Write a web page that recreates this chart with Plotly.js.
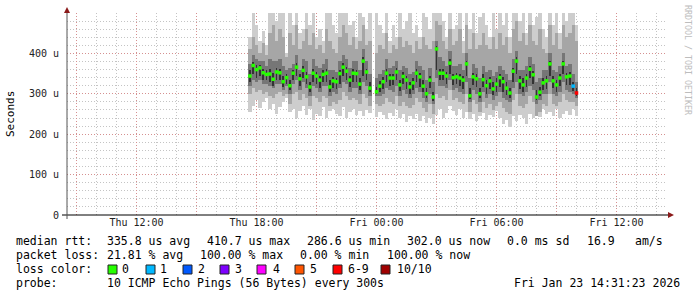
<!DOCTYPE html>
<html><head><meta charset="utf-8">
<script src="https://cdn.plot.ly/plotly-3.0.1.min.js"></script>
<style>html,body{margin:0;padding:0;background:#fff}#chart{width:697px;height:297px}</style>
</head><body><div id="chart"></div>
<script>
// ---- data (microseconds), 10-minute steps starting Thu 2026-01-22 17:40 ----
const startTime = '2026-01-22T17:40:00Z';
const stepMin = 10;
const med = [344,370,360,364,352,348,349,336,354,352, 330,340,320,351,366,337,358,342,317,351,
  344,334,348,351,317,332,330,350,366,356, 334,351,350,324,381,354,314,null,305,319,
  330,351,339,339,354,322,343,334,317,327, 351,342,319,300,334,292,411,351,351,344,
  376,340,342,339,334,374,295,342,337,300, 335,320,332,312,324,340,330,314,302,356,
  381,332,322,339,361,347,292,304,327,332, 374,332,322,339,374,342,344,319,302];
const lossCount = [0,0,0,0,0,0,0,0,0,0, 0,0,0,0,0,0,0,0,0,0, 0,0,0,0,0,0,0,0,0,0,
  0,0,0,0,0,0,0,10,0,0, 0,0,0,0,0,0,0,0,0,0, 0,0,0,0,0,0,0,0,0,0,
  0,0,0,0,0,0,0,0,0,0, 0,0,0,0,0,0,0,0,0,0, 0,0,0,0,0,0,0,0,0,0, 0,0,0,0,0,0,0,1,7];
const mx = [440,510,470,430,455,420,510,510,480,510, 510,400,510,470,510,450,460,510,470,510,
  440,460,430,510,510,470,450,510,510,510, 470,480,440,510,490,460,510,null,510,470,
  450,510,430,470,440,510,460,480,510,450, 470,440,510,490,460,510,510,510,480,440,
  510,460,470,510,430,510,460,510,450,490, 510,470,440,510,460,510,470,510,440,510,
  510,480,510,450,510,470,490,510,460,440, 510,470,510,450,510,480,510,510,470];
const mn = [255,270,285,265,280,290,262,275,250,268, 280,290,255,262,240,258,270,248,262,236,
  250,245,268,240,258,262,250,245,268,240, 255,262,248,258,245,260,252,null,242,255,
  248,238,252,245,262,240,250,230,246,238, 250,232,245,228,240,225,248,262,240,252,
  270,258,248,262,240,255,238,250,232,245, 252,236,248,242,258,240,225,236,218,244,
  232,248,240,226,250,240,258,242,262,250, 256,245,262,240,250,258,248,262,245];
const lo = [300,315,305,310,300,305,295,290,300,305, 295,300,275,300,305,285,300,290,270,295,
  290,280,295,290,270,280,275,285,305,295, 285,290,285,275,300,290,270,null,275,270,
  275,290,280,275,295,270,280,270,265,272, 290,280,265,255,275,250,300,290,295,285,
  310,285,290,280,275,300,255,285,275,255, 280,265,275,260,270,280,265,255,250,285,
  300,270,265,275,295,280,245,255,275,270, 300,275,270,280,300,285,280,280,270];
const hi = [410,440,420,400,425,395,450,470,430,460, 440,390,450,420,470,410,430,460,420,450,
  410,420,400,460,430,410,400,440,470,450, 420,440,410,430,470,420,430,null,400,420,
  410,450,400,420,410,440,415,430,420,400, 430,410,440,420,410,430,480,470,430,410,
  460,420,430,460,400,470,410,450,410,420, 450,420,410,440,410,450,420,440,400,460,
  480,430,450,420,470,430,420,460,410,400, 470,420,450,410,470,440,450,470,430];
const ilo = [320,335,330,335,325,325,320,315,325,325, 310,320,300,325,335,310,330,315,295,320,
  315,305,320,320,295,305,300,315,330,325, 305,315,315,300,330,320,295,null,295,295,
  300,315,310,305,320,295,310,300,290,300, 315,305,290,280,300,275,340,320,320,315,
  335,310,315,305,300,330,280,310,300,280, 305,290,300,285,295,305,290,285,280,315,
  330,300,295,305,320,310,275,285,300,300, 330,300,295,305,330,310,305,300,290];
const ihi = [375,395,385,380,380,370,385,380,380,385, 370,360,365,375,395,360,385,380,350,385,
  370,365,375,385,360,360,355,380,395,385, 365,380,380,360,410,380,350,null,340,350,
  360,385,365,370,380,360,370,365,350,355, 380,370,360,335,365,330,430,390,380,370,
  405,370,370,375,360,400,340,375,365,340, 370,355,360,345,355,370,360,350,335,385,
  405,360,360,370,390,375,330,340,360,360, 400,360,355,370,400,370,375,350,330];
const clo = [330,350,340,345,335,335,330,320,335,335, 318,325,310,335,345,320,340,325,305,330,
  325,315,330,330,305,315,312,325,345,335, 318,330,330,310,345,335,305,null,300,305,
  312,330,320,322,335,308,325,312,300,310, 330,318,305,290,315,282,360,335,335,325,
  350,322,325,320,312,345,288,322,318,290, 318,300,312,298,305,318,305,298,290,330,
  350,312,305,318,338,325,285,295,310,312, 345,315,305,320,348,322,322,308,295];
const chi = [358,378,372,372,362,358,362,352,365,362, 345,348,335,360,376,348,368,355,330,362,
  355,345,358,362,335,342,340,360,376,366, 345,362,360,338,392,362,330,null,318,332,
  342,362,350,350,365,335,355,345,330,340, 362,352,335,315,345,305,418,362,362,354,
  385,350,352,350,345,382,315,352,348,315, 348,335,342,328,338,350,342,328,315,365,
  390,345,338,350,370,357,310,318,340,345, 382,345,335,350,382,352,355,330,315];

const lossLabels = ['0','1','2','3','4','5','6-9','10/10'];
const lossColors = ['#26ff00','#00b8ff','#0059ff','#7e00ff','#ff00ff','#ff5500','#ff0000','#a00000'];
const xTickVals = ['2026-01-22 09:00','2026-01-22 12:00','2026-01-22 15:00','2026-01-22 18:00','2026-01-22 21:00',
  '2026-01-23 00:00','2026-01-23 03:00','2026-01-23 06:00','2026-01-23 09:00','2026-01-23 12:00'];
const xTickText = ['','Thu 12:00','','Thu 18:00','','Fri 00:00','','Fri 06:00','','Fri 12:00'];
const yTickVals = [0,100,200,300,400];
const yTickText = ['0','100 u','200 u','300 u','400 u'];

// ---- derived ----
const t0 = Date.parse(startTime);
const times = med.map((_, i) => new Date(t0 + i*stepMin*60000).toISOString().replace('T',' ').slice(0,19));
function lossIdx(c){ if(c<=5) return c; if(c<10) return 6; return 7; }
const medColors = lossCount.map(c => lossColors[lossIdx(c)]);
function band(a, b, color, wfrac){
  return {type:'bar', x: times, base: a, y: b.map((v,i)=> (v==null||a[i]==null)? null : v-a[i]),
    width: stepMin*60000*wfrac, marker:{color: color, line:{width:0}}, hoverinfo:'skip', showlegend:false};
}
const traces = [
  band(mn, mx, '#cdcdcd', 1),
  band(lo, hi, '#a6a6a6', 1),
  band(ilo, ihi, '#767676', 1),
  band(clo, chi, '#333333', 0.55),
  {type:'scatter', mode:'markers', x: times, y: med,
   marker:{symbol:'square', size:3.5, color: medColors, line:{width:0}}, showlegend:false, hoverinfo:'skip'}
];

const W=697, H=297, ML=67, MT=13, PW=600, PH=202;
const px = X => (X-ML)/PW;
const py = Y => 1-(Y-MT)/PH;
const mono = 'DejaVu Sans Mono';
const tf = {family: mono, size: 11.5, color:'#000'};
const ann = [];
function txt(X, Y, s, f){ ann.push({xref:'paper', yref:'paper', x:px(X-2), y:py(Y), xanchor:'left', yanchor:'middle', text:s, showarrow:false, font: f||tf}); }
[[16,'median rtt:'],[107,'335.8 us avg'],[207,'410.7 us max'],[307,'286.6 us min'],[407,'302.0 us now'],[507,'0.0 ms sd'],[587,'16.9'],[635,'am/s']].forEach(a=>txt(a[0],241,a[1]));
[[16,'packet loss:'],[107,'21.81 % avg'],[200,'100.00 % max'],[300,'0.00 % min'],[387,'100.00 % now']].forEach(a=>txt(a[0],255,a[1]));
txt(16,269,'loss color:');
const boxX = [108,146,183,220,257,295,333,381];
const labX = [122,160,198,235,273,310,348,397];
const shapes = [];
lossLabels.forEach((l,i)=>{
  txt(labX[i],269,l);
  shapes.push({type:'rect', xref:'paper', yref:'paper', x0:px(boxX[i]), x1:px(boxX[i]+9), y0:py(274), y1:py(265),
    fillcolor: lossColors[i], line:{color:'#222', width:1}});
});
[[16,'probe:'],[107,'10 ICMP Echo Pings (56 Bytes) every 300s'],[514,'Fri Jan 23 14:31:23 2026']].forEach(a=>txt(a[0],283,a[1]));
// y title and watermark
ann.push({xref:'paper', yref:'paper', x:px(10), y:py(114), xanchor:'center', yanchor:'middle', textangle:-90,
  text:'Seconds', showarrow:false, font:{family:mono, size:11, color:'#000'}});
ann.push({xref:'paper', yref:'paper', x:px(688), y:py(60), xanchor:'center', yanchor:'middle', textangle:90,
  text:'RRDTOOL / TOBI OETIKER', showarrow:false, font:{family:mono, size:8.3, color:'#bdbdbd'}});
// axis lines and arrows
shapes.push({type:'line', xref:'paper', yref:'paper', x0:px(62), x1:px(668), y0:py(215), y1:py(215), line:{color:'#000', width:1}});
shapes.push({type:'line', xref:'paper', yref:'paper', x0:px(67), x1:px(67), y0:py(219), y1:py(11), line:{color:'#555', width:1}});
shapes.push({type:'path', xref:'paper', yref:'paper',
  path:`M ${px(668)} ${py(212)} L ${px(674)} ${py(215)} L ${px(668)} ${py(218)} Z`, fillcolor:'#8b1a1a', line:{width:0}});
shapes.push({type:'path', xref:'paper', yref:'paper',
  path:`M ${px(64)} ${py(13)} L ${px(67)} ${py(7)} L ${px(70)} ${py(13)} Z`, fillcolor:'#8b1a1a', line:{width:0}});

const layout = {
  width:W, height:H, margin:{l:ML, r:W-ML-PW, t:MT, b:H-MT-PH, pad:0},
  paper_bgcolor:'#fff', plot_bgcolor:'#fff', barmode:'overlay', bargap:0, showlegend:false,
  xaxis:{type:'date', range:['2026-01-22 08:31:23','2026-01-23 14:31:23'], tickmode:'array',
    tickvals:xTickVals, ticktext:xTickText, showgrid:true, gridcolor:'rgba(225,110,110,0.6)', griddash:'1px,2px', gridwidth:1,
    ticks:'', showline:false, zeroline:false, tickfont:{family:mono, size:10, color:'#222'}, fixedrange:true,
    minor:{tickmode:'linear', tick0:'2026-01-22 09:00', dtick:3600000, showgrid:true, gridcolor:'#c4c4c4', griddash:'1px,2px', gridwidth:1}},
  yaxis:{range:[0,500], tickmode:'array', tickvals:yTickVals, ticktext:yTickText, showgrid:true,
    gridcolor:'rgba(225,110,110,0.6)', griddash:'1px,2px', gridwidth:1, zeroline:false, showline:false, ticks:'',
    ticklabelstandoff:7, tickfont:{family:mono, size:10, color:'#222'}, fixedrange:true,
    minor:{tickmode:'linear', tick0:0, dtick:20, showgrid:true, gridcolor:'#c4c4c4', griddash:'1px,2px', gridwidth:1}},
  annotations: ann, shapes: shapes
};
Plotly.newPlot('chart', traces, layout, {displayModeBar:false, staticPlot:true});
</script></body></html>
